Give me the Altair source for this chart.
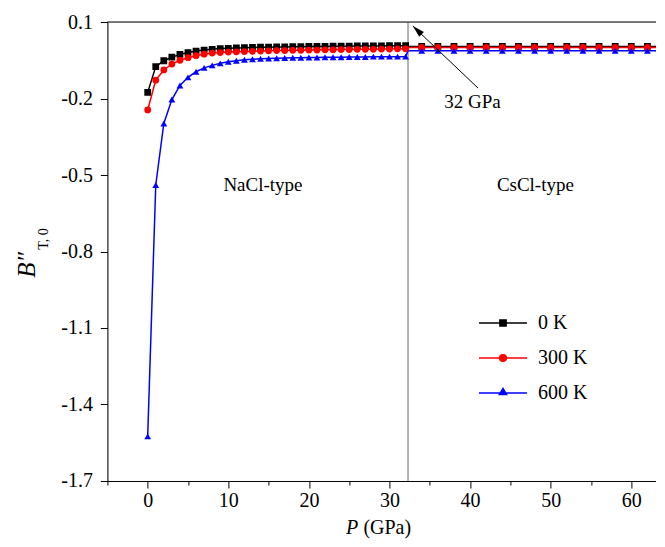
import altair as alt
import pandas as pd

series = ["0 K", "300 K", "600 K"]
colors = ["#000000", "#ff0000", "#0000ff"]

# NaCl-type phase (0..32 GPa, step 1)
p_nacl = [0, 1, 2, 3, 4, 5, 6, 7, 8, 9, 10, 11, 12, 13, 14, 15, 16, 17, 18, 19, 20,
          21, 22, 23, 24, 25, 26, 27, 28, 29, 30, 31, 32]
b_0k_nacl = [-0.176, -0.075, -0.052, -0.038, -0.027, -0.020, -0.014, -0.010, -0.007, -0.004,
             -0.003, -0.002, -0.001, 0.000, 0.001, 0.001, 0.002, 0.002, 0.003, 0.003, 0.004,
             0.004, 0.004, 0.005, 0.005, 0.005, 0.006, 0.006, 0.006, 0.006, 0.007, 0.007, 0.007]
b_300k_nacl = [-0.245, -0.128, -0.088, -0.065, -0.050, -0.040, -0.032, -0.026, -0.022, -0.020,
               -0.018, -0.017, -0.016, -0.015, -0.014, -0.013, -0.012, -0.012, -0.011, -0.011,
               -0.010, -0.010, -0.009, -0.009, -0.008, -0.008, -0.007, -0.007, -0.007, -0.006,
               -0.006, -0.005, -0.005]
b_600k_nacl = [-1.525, -0.539, -0.298, -0.204, -0.149, -0.117, -0.095, -0.080, -0.070, -0.062,
               -0.056, -0.052, -0.048, -0.046, -0.044, -0.043, -0.042, -0.041, -0.040, -0.040,
               -0.039, -0.039, -0.038, -0.038, -0.038, -0.037, -0.037, -0.037, -0.036, -0.036,
               -0.036, -0.036, -0.036]

# CsCl-type phase (transition at 32.3 GPa, then 34..62 step 2; last value continues past the frame)
p_cscl = [32.3, 34, 36, 38, 40, 42, 44, 46, 48, 50, 52, 54, 56, 58, 60, 62, 66]
b_0k_cscl = [0.004] * 17
b_300k_cscl = [0.000] * 17
b_600k_cscl = [-0.013] * 17
cscl_marker = [False] + [True] * 15 + [False]

transition_p = [32.3]

# annotation texts
ann_text = ["NaCl-type", "CsCl-type", "32 GPa"]
ann_p = [14.3, 48.1, 40.3]
ann_b = [-0.539, -0.539, -0.214]

# arrow (tail -> tip)
arrow_p = [40.98, 32.9]
arrow_b = [-0.159, 0.084]

x_ticks = [-5, 0, 5, 10, 15, 20, 25, 30, 35, 40, 45, 50, 55, 60]
y_ticks = [0.1, -0.05, -0.2, -0.35, -0.5, -0.65, -0.8, -0.95, -1.1, -1.25, -1.4, -1.55, -1.7]

rows = []
for s, bn, bc in zip(series, [b_0k_nacl, b_300k_nacl, b_600k_nacl],
                     [b_0k_cscl, b_300k_cscl, b_600k_cscl]):
    for p, b in zip(p_nacl, bn):
        rows.append({"series": s, "P": p, "B": b, "marker": True})
    for p, b, m in zip(p_cscl, bc, cscl_marker):
        rows.append({"series": s, "P": p, "B": b, "marker": m})
df = pd.DataFrame(rows)

ann_df = pd.DataFrame({"text": ann_text, "P": ann_p, "B": ann_b})
arrow_df = pd.DataFrame({"P": arrow_p, "B": arrow_b})
tip_df = pd.DataFrame({"P": [arrow_p[1]], "B": [arrow_b[1]]})
trans_df = pd.DataFrame({"P": transition_p})
top_df = pd.DataFrame({"B": [y_ticks[0]]})

FONT = "Liberation Serif"

PLOT_W = 549
xscale = alt.Scale(domain=[-5, -5 + PLOT_W / 8.06], nice=False, zero=False)
yscale = alt.Scale(domain=[-1.7, 0.1], nice=False, zero=False)

x_major = "datum.value % 10 == 0"
y_major = "abs((datum.value - 0.1) / 0.3 - round((datum.value - 0.1) / 0.3)) < 0.01"

x_axis = alt.Axis(
    values=x_ticks, title=None, grid=False,
    labelExpr=f"{x_major} ? datum.label : ''",
    tickSize={"condition": {"test": x_major, "value": 7}, "value": 4},
    labelFont=FONT, labelFontSize=20, labelColor="black", labelPadding=3,
    domainColor="black", tickColor="black", labelFlush=False, labelOverlap=False,
)
y_axis = alt.Axis(
    values=y_ticks, title=None, grid=False,
    labelExpr=f"{y_major} ? replace(format(datum.value, '.1f'), '\u2212', '-') : ''",
    tickSize={"condition": {"test": y_major, "value": 7}, "value": 4},
    labelFont=FONT, labelFontSize=20, labelColor="black", labelPadding=8,
    domainColor="black", tickColor="black", labelFlush=False, labelOverlap=False,
)

X = alt.X("P:Q", scale=xscale, axis=x_axis)
Y = alt.Y("B:Q", scale=yscale, axis=y_axis)
color = alt.Color("series:N", scale=alt.Scale(domain=series, range=colors), legend=None)

trans = alt.Chart(trans_df).mark_rule(color="#b3b3b3", strokeWidth=2).encode(
    x=alt.X("P:Q", scale=xscale))
top = alt.Chart(top_df).mark_rule(color="black", strokeWidth=1).encode(
    y=alt.Y("B:Q", scale=yscale))

lines = alt.Chart(df).mark_line(strokeWidth=1.5, clip=True).encode(
    x=X, y=Y, color=color, order="P:Q")

points = alt.Chart(df).transform_filter("datum.marker").mark_point(
    filled=True, opacity=1, size=46, clip=True).encode(
    x=X, y=Y, color=color,
    shape=alt.Shape("series:N", scale=alt.Scale(domain=series,
                                                 range=["square", "circle", "triangle-up"]),
                    legend=None))

legend_paths = [
    "M-1,0H1M-0.13,-0.13H0.13V0.13H-0.13Z",
    "M-1,0H1M-0.14,0A0.14,0.14 0 1,0 0.14,0A0.14,0.14 0 1,0 -0.14,0Z",
    "M-1,0H1M0,-0.19L0.15,0.06L-0.15,0.06Z",
]
col_expr = ("datum.value === '0 K' ? '#000000' : "
            "(datum.value === '300 K' ? '#ff0000' : '#0000ff')")
leg = alt.Legend(
    orient="none", legendX=370.6, legendY=276, title=None, padding=0,
    labelFont=FONT, labelFontSize=20, labelColor="black", labelOffset=10,
    symbolSize=2304, symbolStrokeWidth=1.5, rowPadding=-22, symbolOpacity=1,
    symbolFillColor=alt.ExprRef(expr=col_expr),
    symbolStrokeColor=alt.ExprRef(expr=col_expr),
)
legend_layer = alt.Chart(df).transform_filter("datum.P < -100").mark_point(
    filled=True, opacity=1).encode(
    x=X, y=Y, color=color,
    shape=alt.Shape("series:N", scale=alt.Scale(domain=series, range=legend_paths), legend=leg),
)

ann = alt.Chart(ann_df).mark_text(font=FONT, fontSize=19, color="black").encode(
    x=alt.X("P:Q", scale=xscale), y=alt.Y("B:Q", scale=yscale), text="text:N")

arrow_line = alt.Chart(arrow_df).mark_line(color="black", strokeWidth=1).encode(
    x=alt.X("P:Q", scale=xscale), y=alt.Y("B:Q", scale=yscale))
arrow_head = alt.Chart(tip_df).mark_point(
    shape="M0,0L-0.28,1L0.28,1Z", filled=True, color="black", opacity=1,
    size=576, angle=313.7).encode(
    x=alt.X("P:Q", scale=xscale), y=alt.Y("B:Q", scale=yscale))

ytitle_b = alt.Chart(top_df).mark_text(
    text="B\u2033", font=FONT, fontStyle="italic", fontSize=25, angle=270,
    color="black").encode(x=alt.value(-80.4), y=alt.value(243))
ytitle_sub = alt.Chart(top_df).mark_text(
    text="T, 0", font=FONT, fontSize=14, angle=270, color="black").encode(
    x=alt.value(-63.4), y=alt.value(217))
xtitle_p = alt.Chart(top_df).mark_text(
    text="P", font=FONT, fontStyle="italic", fontSize=20, align="left",
    color="black").encode(x=alt.value(238.7), y=alt.value(506))
xtitle_u = alt.Chart(top_df).mark_text(
    text="(GPa)", font=FONT, fontSize=20, align="left", color="black").encode(
    x=alt.value(256), y=alt.value(506))

chart = alt.layer(
    trans, top, lines, points, legend_layer, ann, arrow_line, arrow_head,
    ytitle_b, ytitle_sub, xtitle_p, xtitle_u,
).resolve_scale(shape="independent").properties(
    width=PLOT_W, height=459,
    autosize=alt.AutoSizeParams(type="none"),
    padding={"left": 99.4, "top": 14, "right": 0, "bottom": 58},
).configure_view(stroke=None).configure(background="white")

chart.save("out.html", embed_options={"renderer": "svg", "actions": False})
